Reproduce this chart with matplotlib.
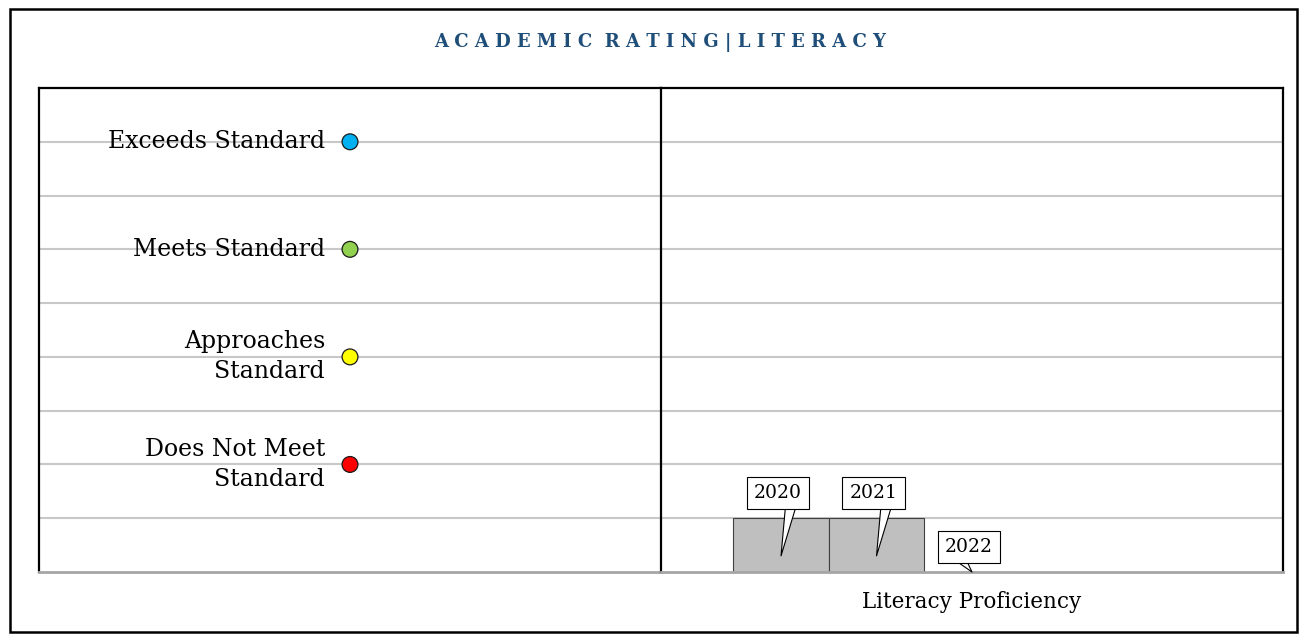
import matplotlib.pyplot as plt
from matplotlib.patches import Rectangle
from matplotlib.transforms import offset_copy

# ================= DATA =================
rating_labels = ["Does Not Meet\nStandard", "Approaches\nStandard",
                 "Meets Standard", "Exceeds Standard"]
rating_levels = [2, 4, 6, 8]
rating_colors = ["#FF0000", "#FFFF00", "#92D050", "#00B0F0"]

years = ["2020", "2021", "2022"]
proficiency = [1, 1, 0]

# callout pointer anchor on the label box (fraction of box width)
callout_relpos = [0.78, 0.78, 0.28]

# ================= STYLE =================
plt.rcParams['font.family'] = ['DejaVu Serif']
W, H = 1307, 634
fig = plt.figure(figsize=(W / 100, H / 100), dpi=100)

# outer frame
fig.patches.append(Rectangle((10 / W, 1 - 632 / H), 1287 / W, 623 / H,
                             transform=fig.transFigure, fill=False,
                             edgecolor='black', linewidth=1.8))

title = "  ".join(" ".join(w) for w in ["ACADEMIC", "RATING|LITERACY"])
fig.text(660 / W, 1 - 43 / H, title, ha='center', va='center',
         fontsize=13, fontweight='bold', color='#1F4E79')

bottom = 1 - 572 / H
height = (572 - 88) / H
ax_l = fig.add_axes([39 / W, bottom, 622 / W, height])
ax_r = fig.add_axes([661 / W, bottom, 622 / W, height])

grid_color = '#C8C8C8'
for ax in (ax_l, ax_r):
    ax.set_ylim(0, 9)
    ax.set_yticks(range(1, 9))
    ax.set_xticks([])
    ax.tick_params(left=False, labelleft=False)
    ax.grid(axis='y', color=grid_color, linewidth=1.5, zorder=0)
    ax.set_axisbelow(True)
    for s in ('top', 'left', 'right'):
        ax.spines[s].set_color('black')
        ax.spines[s].set_linewidth(1.6)
    ax.spines['bottom'].set_color('#A6A6A6')
    ax.spines['bottom'].set_linewidth(2)
# divider between the two panels comes from the right panel's left spine
ax_l.spines['right'].set_visible(False)

# ================= LEFT: rating scale =================
ax_l.set_xlim(0, 1)
ax_l.scatter([0.5] * len(rating_levels), rating_levels, s=130,
             c=rating_colors, edgecolors='#1A1A1A', linewidths=0.9, zorder=3)
for lab, lvl in zip(rating_labels, rating_levels):
    ax_l.text(0.46, lvl, lab, ha='right', va='center', fontsize=17,
              linespacing=1.4)

# ================= RIGHT: proficiency bars =================
x = list(range(len(years)))
ax_r.set_xlim(-1.257, 5.257)
ax_r.bar(x, proficiency, width=1.0, color='#BFBFBF', edgecolor='#404040',
         linewidth=0.8, zorder=2)

txt_trans = offset_copy(ax_r.transData, fig=fig, x=-3, y=25, units='dots')
for xi, yr, val, rp in zip(x, years, proficiency, callout_relpos):
    ax_r.annotate(yr, xy=(xi, 0.3 * val), xytext=(xi, val),
                  textcoords=txt_trans, ha='center', va='center',
                  fontsize=13.5, zorder=5,
                  bbox=dict(boxstyle='square,pad=0.38', fc='white',
                            ec='black', lw=0.8),
                  arrowprops=dict(arrowstyle='wedge,tail_width=0.6',
                                  fc='white', ec='black', lw=0.8,
                                  relpos=(rp, 0), patchA=None,
                                  shrinkA=0, shrinkB=0))

ax_r.set_xlabel("Literacy Proficiency", fontsize=15.5, labelpad=14)

fig.savefig("out.png", dpi=100)
